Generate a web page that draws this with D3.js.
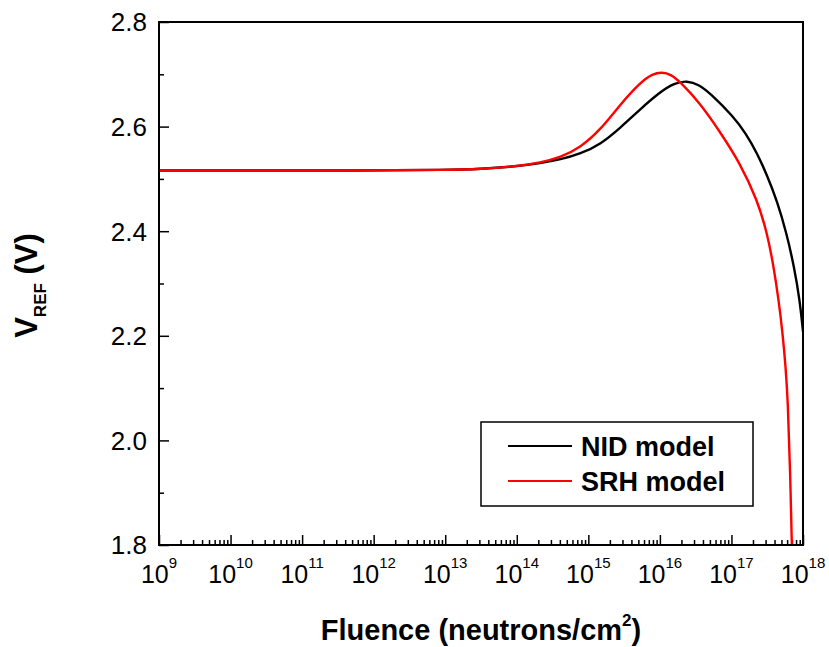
<!DOCTYPE html>
<html>
<head>
<meta charset="utf-8">
<script src="https://cdn.jsdelivr.net/npm/d3@7"></script>
<style>
  body { margin: 0; background: #fff; }
  svg { font-family: "Liberation Sans", Arial, sans-serif; }
  .axis path.domain { display: none; }
  .axis line { stroke: #000; stroke-width: 1.5; }
</style>
</head>
<body>
<div id="chart"></div>
<script>
// x values are log10(fluence)
const nidExp  = [9, 12, 13, 13.5, 14, 14.33, 14.61, 14.89, 15.17, 15.45, 15.73, 16.01, 16.2, 16.38, 16.55, 16.7, 17.03, 17.2, 17.36, 17.5, 17.64, 17.77, 17.876, 17.955, 18];
const nidVref = [2.516, 2.516, 2.517, 2.519, 2.524, 2.530, 2.537, 2.548, 2.566, 2.598, 2.634, 2.667, 2.683, 2.688, 2.680, 2.664, 2.619, 2.587, 2.549, 2.506, 2.457, 2.396, 2.332, 2.268, 2.208];

const srhExp  = [9, 12, 13, 13.5, 14, 14.33, 14.61, 14.89, 15.17, 15.45, 15.73, 15.9, 16.03, 16.15, 16.28, 16.56, 16.84, 17.12, 17.36, 17.5, 17.59, 17.66, 17.715, 17.757, 17.788, 17.819, 17.851];
const srhVref = [2.516, 2.516, 2.517, 2.519, 2.524, 2.531, 2.541, 2.560, 2.594, 2.643, 2.685, 2.701, 2.704, 2.700, 2.686, 2.645, 2.590, 2.530, 2.460, 2.396, 2.332, 2.268, 2.205, 2.141, 2.077, 1.950, 1.760];

const xTickExps = [9, 10, 11, 12, 13, 14, 15, 16, 17, 18];
const yMajorTicks = [1.8, 2.0, 2.2, 2.4, 2.6, 2.8];
const yMinorTicks = [1.9, 2.1, 2.3, 2.5, 2.7];

const seriesNames = ["NID model", "SRH model"];
const seriesColors = ["#000000", "#ff0000"];

class FluenceChart {
  constructor(_config, _series) {
    this.config = {
      parentElement: _config.parentElement,
      containerWidth: _config.containerWidth || 829,
      containerHeight: _config.containerHeight || 647,
      margin: _config.margin || { top: 22, right: 26, bottom: 102, left: 159 }
    };
    this.series = _series;
    this.initVis();
  }

  initVis() {
    let vis = this;
    const m = vis.config.margin;

    vis.width = vis.config.containerWidth - m.left - m.right;
    vis.height = vis.config.containerHeight - m.top - m.bottom;

    vis.xScale = d3.scaleLog().domain([1e9, 1e18]).range([0, vis.width]);
    vis.yScale = d3.scaleLinear().domain([1.8, 2.8]).range([vis.height, 0]);

    vis.svg = d3.select(vis.config.parentElement)
      .append("svg")
      .attr("width", vis.config.containerWidth)
      .attr("height", vis.config.containerHeight);

    vis.chart = vis.svg.append("g")
      .attr("transform", `translate(${m.left},${m.top})`);

    vis.svg.append("defs").append("clipPath")
      .attr("id", "plot-clip")
      .append("rect")
      .attr("width", vis.width)
      .attr("height", vis.height);

    // minor x ticks: 2..9 in every decade
    const xMinor = [];
    xTickExps.slice(0, -1).forEach(e => {
      for (let k = 2; k <= 9; k++) xMinor.push(k * Math.pow(10, e));
    });

    vis.chart.append("g")
      .attr("class", "axis")
      .attr("transform", `translate(0,${vis.height})`)
      .call(d3.axisBottom(vis.xScale).tickValues(xMinor).tickSize(-5).tickFormat(""));

    vis.chart.append("g")
      .attr("class", "axis")
      .attr("transform", `translate(0,${vis.height})`)
      .call(d3.axisBottom(vis.xScale).tickValues(xTickExps.map(e => Math.pow(10, e))).tickSize(-10).tickFormat(""));

    vis.chart.append("g")
      .attr("class", "axis")
      .call(d3.axisLeft(vis.yScale).tickValues(yMinorTicks).tickSize(-5).tickFormat(""));

    vis.chart.append("g")
      .attr("class", "axis")
      .call(d3.axisLeft(vis.yScale).tickValues(yMajorTicks).tickSize(-10).tickFormat(""));

    // y tick labels
    vis.chart.append("g").selectAll("text")
      .data(yMajorTicks)
      .join("text")
      .attr("x", -12)
      .attr("y", d => vis.yScale(d))
      .attr("dy", "0.36em")
      .attr("text-anchor", "end")
      .attr("font-size", 26)
      .text(d => d.toFixed(1));

    // x tick labels with superscript exponent
    const xl = vis.chart.append("g").selectAll("text")
      .data(xTickExps)
      .join("text")
      .attr("x", d => vis.xScale(Math.pow(10, d)))
      .attr("y", vis.height + 38)
      .attr("text-anchor", "middle")
      .attr("font-size", 25);
    xl.append("tspan").text("10");
    xl.append("tspan").attr("font-size", 15).attr("dy", -15).text(d => d);

    vis.linesG = vis.chart.append("g").attr("clip-path", "url(#plot-clip)");

    // frame
    vis.chart.append("rect")
      .attr("width", vis.width)
      .attr("height", vis.height)
      .attr("fill", "none")
      .attr("stroke", "#000")
      .attr("stroke-width", 2);

    // axis titles
    const xt = vis.chart.append("text")
      .attr("x", vis.width / 2)
      .attr("y", vis.height + 95)
      .attr("text-anchor", "middle")
      .attr("font-size", 29)
      .attr("font-weight", "bold");
    xt.append("tspan").text("Fluence (neutrons/cm");
    xt.append("tspan").attr("font-size", 17).attr("dy", -14).text("2");
    xt.append("tspan").attr("dy", 14).text(")");

    const yt = vis.chart.append("text")
      .attr("transform", "rotate(-90)")
      .attr("x", -vis.height / 2 - 2)
      .attr("y", 37 - m.left)
      .attr("text-anchor", "middle")
      .attr("font-size", 31)
      .attr("font-weight", "bold");
    yt.append("tspan").text("V");
    yt.append("tspan").attr("font-size", 17).attr("dy", 9).text("REF");
    yt.append("tspan").attr("dy", -9).text(" (V)");

    // legend
    const lg = vis.chart.append("g").attr("transform", `translate(${481 - m.left},${422 - m.top})`);
    lg.append("rect")
      .attr("width", 272)
      .attr("height", 84)
      .attr("fill", "#fff")
      .attr("stroke", "#000")
      .attr("stroke-width", 1.5);
    const items = lg.selectAll("g.item")
      .data(vis.series)
      .join("g")
      .attr("class", "item")
      .attr("transform", (d, i) => `translate(0,${24 + i * 35})`);
    items.append("line")
      .attr("x1", 27).attr("x2", 91)
      .attr("stroke", d => d.color)
      .attr("stroke-width", 2);
    items.append("text")
      .attr("x", 100)
      .attr("y", 9.5)
      .attr("font-size", 27)
      .attr("font-weight", "bold")
      .text(d => d.name);

    vis.renderVis();
  }

  renderVis() {
    let vis = this;

    // basis spline smooths out reading errors in the traced points
    const line = d3.line()
      .x(d => vis.xScale(Math.pow(10, d[0])))
      .y(d => vis.yScale(d[1]))
      .curve(d3.curveBasis);

    vis.linesG.selectAll("path")
      .data(vis.series)
      .join("path")
      .attr("fill", "none")
      .attr("stroke", d => d.color)
      .attr("stroke-width", 2.4)
      .attr("d", d => line(d.exps.map((e, i) => [e, d.values[i]])));
  }
}

const series = [
  { name: seriesNames[0], color: seriesColors[0], exps: nidExp, values: nidVref },
  { name: seriesNames[1], color: seriesColors[1], exps: srhExp, values: srhVref }
];

new FluenceChart({ parentElement: "#chart" }, series);
</script>
</body>
</html>
